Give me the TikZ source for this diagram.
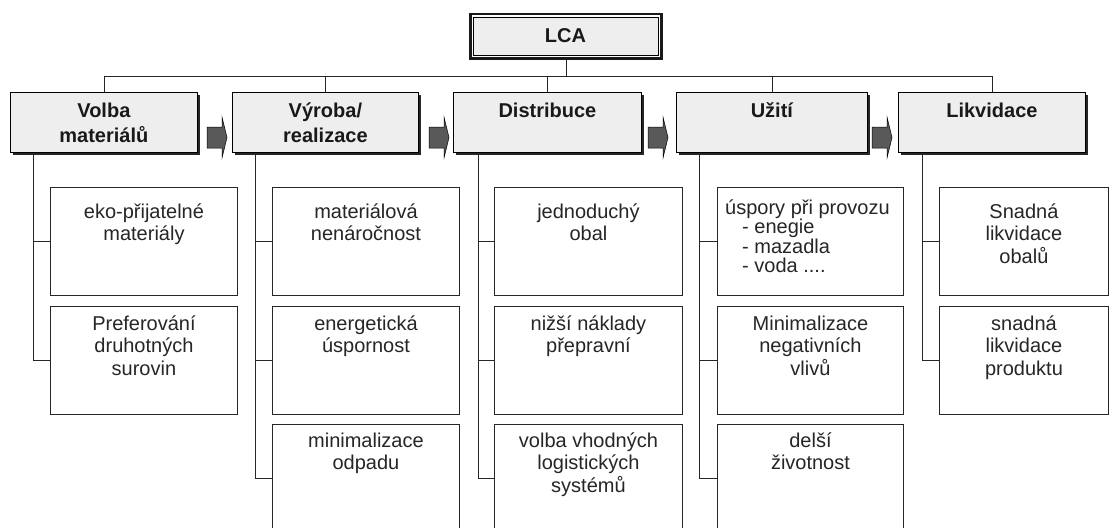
\documentclass[tikz,border=0pt]{standalone}
\usepackage{fontspec}
\setmainfont{Liberation Sans}
\usetikzlibrary{shadows}
\newcommand\firststrut{\rule{0pt}{16pt}}
\begin{document}
\begin{tikzpicture}[x=1pt,y=-1pt,
  hdr/.style={draw=black, line width=0.8pt, fill=gray!13, anchor=north west, inner sep=0pt,
    minimum height=60pt, general shadow={fill=black!85, shadow xshift=3pt, shadow yshift=-3pt}},
  htxt/.style={anchor=north, inner sep=0pt, align=center, text=black!90,
    font=\fontsize{20}{25}\selectfont\bfseries},
  sub/.style={draw=black!85, line width=0.9pt, anchor=north west, inner sep=0pt, minimum height=108pt},
  stxt/.style={anchor=north, inner sep=0pt, align=center, text=black!85,
    font=\fontsize{20}{22.5}\selectfont},
  conn/.style={draw=black!85, line width=0.8pt},
  blockarr/.style={fill=black!65, draw=black, line width=0.5pt, line join=miter}
]
\clip (0,0) rectangle (1115,527);
\fill[white] (0,0) rectangle (1115,527);

% LCA top box
\node[fill=black!90, minimum width=194pt, minimum height=47pt, inner sep=0pt] (lcaout) at (566,36.5) {};
\node[fill=white, minimum width=188.5pt, minimum height=41.5pt, inner sep=0pt] (lcagap) at (565.75,36.25) {};
\node[fill=gray!13, draw=black, line width=0.7pt, minimum width=185pt, minimum height=38pt, inner sep=0pt,
  font=\fontsize{20}{24}\selectfont\bfseries, text=black!90] (lca) at (565.5,36) {LCA};

% headers
\node[hdr, minimum width=187pt] (h1) at (10,92) {};
\node[hdr, minimum width=186pt] (h2) at (232,92) {};
\node[hdr, minimum width=188pt] (h3) at (453,92) {};
\node[hdr, minimum width=191pt] (h4) at (676,92) {};
\node[hdr, minimum width=187pt] (h5) at (898,92) {};
\node[htxt] (t1) at ([yshift=-9pt]h1.north) {\firststrut Volba\\materiálů};
\node[htxt] (t2) at ([yshift=-9pt]h2.north) {\firststrut Výroba/\\realizace};
\node[htxt] (t3) at ([yshift=-9pt]h3.north) {\firststrut Distribuce};
\node[htxt] (t4) at ([yshift=-9pt]h4.north) {\firststrut Užití};
\node[htxt] (t5) at ([yshift=-9pt]h5.north) {\firststrut Likvidace};

% bus
\coordinate (bus) at (0,76);
\draw[conn] (lcaout.south) -- (lcaout.south |- bus);
\draw[conn] (h1.north |- bus) -- (h5.north |- bus);
\foreach \h in {h1,h2,h3,h4,h5} \draw[conn] (\h.north |- bus) -- (\h.north);

% arrows between headers
\foreach \x in {207,429,648,872}
  \draw[blockarr] (\x,127) -- ++(15,0) -- ++(0,-10) -- ++(5,20.5) -- ++(-5,20.5) -- ++(0,-10) -- ++(-15,0) -- cycle;

% sub boxes
\node[sub, minimum width=187pt] (v1) at (50,187) {};
\node[sub, minimum width=187pt] (v2) at (50,306) {};
\node[sub, minimum width=187pt] (r1) at (272,187) {};
\node[sub, minimum width=187pt] (r2) at (272,306) {};
\node[sub, minimum width=187pt] (r3) at (272,424) {};
\node[sub, minimum width=188pt] (d1) at (494,187) {};
\node[sub, minimum width=188pt] (d2) at (494,306) {};
\node[sub, minimum width=188pt] (d3) at (494,424) {};
\node[sub, minimum width=186pt] (u1) at (717,187) {};
\node[sub, minimum width=186pt] (u2) at (717,306) {};
\node[sub, minimum width=186pt] (u3) at (717,424) {};
\node[sub, minimum width=169pt] (l1) at (939,187) {};
\node[sub, minimum width=169pt] (l2) at (939,306) {};

% sub texts
\node[stxt] (v1t) at ([yshift=-15pt]v1.north) {\firststrut eko-přijatelné\\materiály};
\node[stxt] (v2t) at ([yshift=-8pt]v2.north) {\firststrut Preferování\\druhotných\\surovin};
\node[stxt] (r1t) at ([yshift=-15pt]r1.north) {\firststrut materiálová\\nenáročnost};
\node[stxt] (r2t) at ([yshift=-8pt]r2.north) {\firststrut energetická\\úspornost};
\node[stxt] (r3t) at ([yshift=-7pt]r3.north) {\firststrut minimalizace\\odpadu};
\node[stxt] (d1t) at ([yshift=-15pt]d1.north) {\firststrut jednoduchý\\obal};
\node[stxt] (d2t) at ([yshift=-8pt]d2.north) {\firststrut nižší náklady\\přepravní};
\node[stxt] (d3t) at ([yshift=-7pt]d3.north) {\firststrut volba vhodných\\logistických\\systémů};
\node[stxt, align=left, anchor=north west, font=\fontsize{20}{19.5}\selectfont] (u1t) at ([xshift=8pt,yshift=-11pt]u1.north west)
  {\firststrut úspory při provozu\\\hspace*{17pt}- enegie\\\hspace*{17pt}- mazadla\\\hspace*{17pt}- voda ....};
\node[stxt] (u2t) at ([yshift=-8pt]u2.north) {\firststrut Minimalizace\\negativních\\vlivů};
\node[stxt] (u3t) at ([yshift=-7pt]u3.north) {\firststrut delší\\životnost};
\node[stxt] (l1t) at ([yshift=-15pt]l1.north) {\firststrut Snadná\\likvidace\\obalů};
\node[stxt] (l2t) at ([yshift=-8pt]l2.north) {\firststrut snadná\\likvidace\\produktu};

% column connectors
\draw[conn] ([xshift=23pt]h1.south west) |- (v1.west);
\draw[conn] ([xshift=23pt]h1.south west) |- (v2.west);
\draw[conn] ([xshift=23pt]h2.south west) |- (r1.west);
\draw[conn] ([xshift=23pt]h2.south west) |- (r2.west);
\draw[conn] ([xshift=23pt]h2.south west) |- (r3.west);
\draw[conn] ([xshift=25pt]h3.south west) |- (d1.west);
\draw[conn] ([xshift=25pt]h3.south west) |- (d2.west);
\draw[conn] ([xshift=25pt]h3.south west) |- (d3.west);
\draw[conn] ([xshift=23pt]h4.south west) |- (u1.west);
\draw[conn] ([xshift=23pt]h4.south west) |- (u2.west);
\draw[conn] ([xshift=23pt]h4.south west) |- (u3.west);
\draw[conn] ([xshift=24pt]h5.south west) |- (l1.west);
\draw[conn] ([xshift=24pt]h5.south west) |- (l2.west);
\end{tikzpicture}
\end{document}
